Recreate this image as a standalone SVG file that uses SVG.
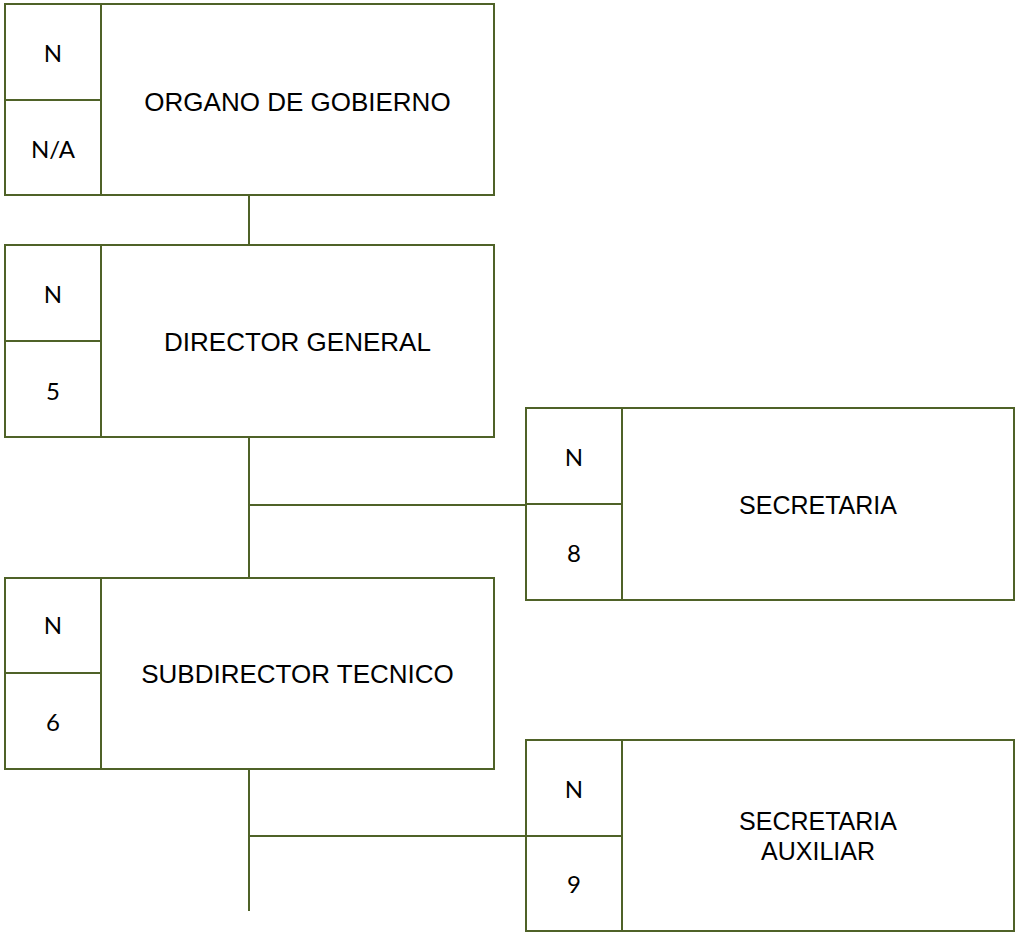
<svg xmlns="http://www.w3.org/2000/svg" width="1016" height="933" viewBox="0 0 1016 933">
<style>
.b{fill:#fff;stroke:#4f6228;stroke-width:2}
.l{stroke:#4f6228;stroke-width:2;fill:none}
.t{font-family:"Liberation Sans",Arial,sans-serif;font-size:26px;fill:#000;text-anchor:middle}
.r{font-family:"Liberation Sans",Arial,sans-serif;font-size:25px;fill:#000;text-anchor:middle}
.n{font-family:Lato,"Open Sans",sans-serif;font-size:24px;fill:#000;text-anchor:middle}
</style>
<rect width="1016" height="933" fill="#fff"/>
<g id="connectors">
<path class="l" d="M249 195V245"/>
<path class="l" d="M249 437V578"/>
<path class="l" d="M249 505H526"/>
<path class="l" d="M249 769V911"/>
<path class="l" d="M249 836H526"/>
</g>
<g id="organo">
<rect class="b" x="5" y="4" width="489" height="191"/>
<path class="l" d="M101 4V195M5 100H101"/>
<text class="n" x="53" y="62">N</text>
<text class="n" x="53" y="158">N/A</text>
<text class="t" x="297.5" y="111">ORGANO DE GOBIERNO</text>
</g>
<g id="director">
<rect class="b" x="5" y="245" width="489" height="192"/>
<path class="l" d="M101 245V437M5 341H101"/>
<text class="n" x="53" y="303">N</text>
<text class="n" x="53" y="400">5</text>
<text class="t" x="297.5" y="351">DIRECTOR GENERAL</text>
</g>
<g id="secretaria">
<rect class="b" x="526" y="408" width="488" height="192"/>
<path class="l" d="M622 408V600M526 504H622"/>
<text class="n" x="574" y="466">N</text>
<text class="n" x="574" y="562">8</text>
<text class="r" x="818" y="514">SECRETARIA</text>
</g>
<g id="subdirector">
<rect class="b" x="5" y="578" width="489" height="191"/>
<path class="l" d="M101 578V769M5 673H101"/>
<text class="n" x="53" y="634">N</text>
<text class="n" x="53" y="731">6</text>
<text class="t" x="297.5" y="683">SUBDIRECTOR TECNICO</text>
</g>
<g id="secretaria-auxiliar">
<rect class="b" x="526" y="740" width="488" height="191"/>
<path class="l" d="M622 740V931M526 836H622"/>
<text class="n" x="574" y="798">N</text>
<text class="n" x="574" y="893">9</text>
<text class="r" x="818" y="830">SECRETARIA</text>
<text class="r" x="818" y="860">AUXILIAR</text>
</g>
</svg>
